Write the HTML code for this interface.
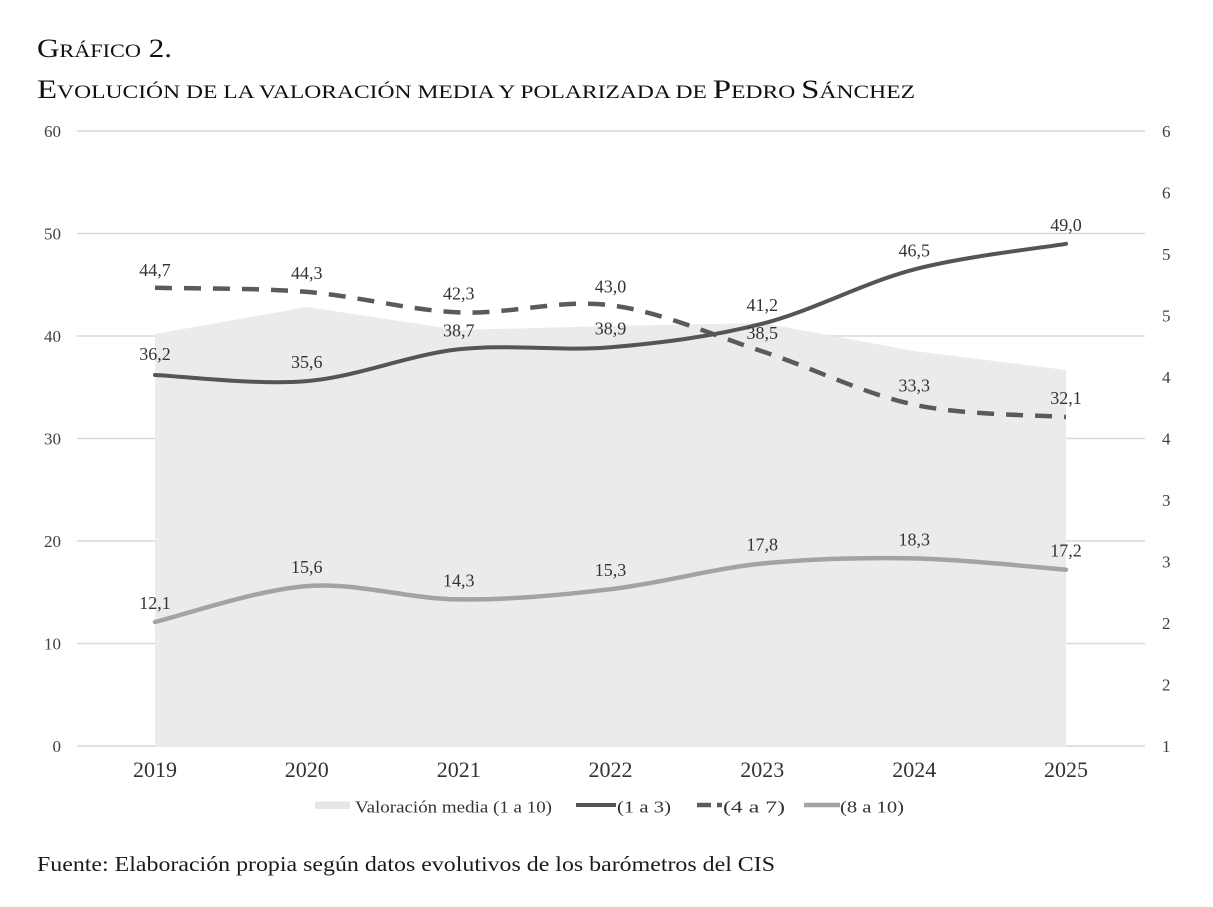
<!DOCTYPE html>
<html>
<head>
<meta charset="utf-8">
<style>
  html, body { margin: 0; padding: 0; background: #ffffff; }
  body { width: 1213px; height: 907px; overflow: hidden; }
  svg { display: block; }
  text { font-family: "Liberation Serif", "DejaVu Serif", serif; }
</style>
</head>
<body>
<svg width="1213" height="907" viewBox="0 0 1213 907" xmlns="http://www.w3.org/2000/svg">
  <rect x="0" y="0" width="1213" height="907" fill="#ffffff"/>

  <!-- Title -->
  <text x="37" y="57" font-size="26.5" fill="#111" textLength="135" lengthAdjust="spacingAndGlyphs">G<tspan font-size="19">RÁFICO</tspan> 2.</text>
  <text x="37" y="98" font-size="26.5" fill="#111" textLength="878" lengthAdjust="spacingAndGlyphs">E<tspan font-size="19">VOLUCIÓN DE LA VALORACIÓN MEDIA Y POLARIZADA DE </tspan>P<tspan font-size="19">EDRO </tspan>S<tspan font-size="19">ÁNCHEZ</tspan></text>

  <!-- Gridlines -->
  <g stroke="#d9d9d9" stroke-width="1.5">
    <line x1="77" y1="131" x2="1145" y2="131"/>
    <line x1="77" y1="233.5" x2="1145" y2="233.5"/>
    <line x1="77" y1="336" x2="1145" y2="336"/>
    <line x1="77" y1="438.5" x2="1145" y2="438.5"/>
    <line x1="77" y1="541" x2="1145" y2="541"/>
    <line x1="77" y1="643.5" x2="1145" y2="643.5"/>
    <line x1="77" y1="746" x2="1145" y2="746"/>
  </g>

  <!-- Area: Valoración media -->
  <polygon fill="#ebebeb" points="155,334 306.8,307 458.7,330 610.5,326 762.3,323 914.2,351 1066,370 1066,746.5 155,746.5"/>

  <!-- Left axis labels -->
  <g font-size="17" fill="#404040" text-anchor="end">
    <text x="61" y="137">60</text>
    <text x="61" y="239.5">50</text>
    <text x="61" y="342">40</text>
    <text x="61" y="444.5">30</text>
    <text x="61" y="547">20</text>
    <text x="61" y="649.5">10</text>
    <text x="61" y="752">0</text>
  </g>

  <!-- Right axis labels -->
  <g font-size="17" fill="#404040">
    <text x="1162" y="137">6</text>
    <text x="1162" y="198.5">6</text>
    <text x="1162" y="260">5</text>
    <text x="1162" y="321.5">5</text>
    <text x="1162" y="383">4</text>
    <text x="1162" y="444.5">4</text>
    <text x="1162" y="506">3</text>
    <text x="1162" y="567.5">3</text>
    <text x="1162" y="629">2</text>
    <text x="1162" y="690.5">2</text>
    <text x="1162" y="752">1</text>
  </g>

  <!-- X axis labels -->
  <g font-size="22" fill="#333" text-anchor="middle">
    <text x="155" y="777">2019</text>
    <text x="306.8" y="777">2020</text>
    <text x="458.7" y="777">2021</text>
    <text x="610.5" y="777">2022</text>
    <text x="762.3" y="777">2023</text>
    <text x="914.2" y="777">2024</text>
    <text x="1066" y="777">2025</text>
  </g>

  <!-- Series (8 a 10) light -->
  <path fill="none" stroke="#a3a3a3" stroke-width="4.5" stroke-linecap="round"
    d="M155,622 C180.3,616 256.2,589.9 306.8,586.1 C357.4,582.3 408.1,598.9 458.7,599.4 C509.3,599.9 559.9,595.2 610.5,589.2 C661.1,583.2 711.7,568.7 762.3,563.55 C812.9,558.4 863.6,557.4 914.2,558.4 C964.8,559.4 1040.7,567.8 1066,569.7"/>

  <!-- Series (4 a 7) dashed -->
  <path fill="none" stroke="#5a5a5a" stroke-width="4.5" stroke-dasharray="17 12"
    d="M155,287.8 C180.3,288.5 256.2,287.8 306.8,291.9 C357.4,296 408.1,310.2 458.7,312.4 C509.3,314.6 559.9,298.75 610.5,305.25 C661.1,311.75 711.7,334.8 762.3,351.4 C812.9,368 863.6,393.8 914.2,404.7 C964.8,415.6 1040.7,414.95 1066,417"/>

  <!-- Series (1 a 3) dark -->
  <path fill="none" stroke="#555555" stroke-width="4" stroke-linecap="round"
    d="M155,375 C180.3,376 256.2,385.4 306.8,381.1 C357.4,376.8 408.1,354.9 458.7,349.3 C509.3,343.7 559.9,351.6 610.5,347.3 C661.1,343 711.7,336.7 762.3,323.7 C812.9,310.7 863.6,282.7 914.2,269.4 C964.8,256.1 1040.7,248.1 1066,243.8"/>

  <!-- Data labels -->
  <g font-size="18" fill="#333" text-anchor="middle">
    <text x="155" y="360">36,2</text>
    <text x="306.8" y="368">35,6</text>
    <text x="458.7" y="336.3">38,7</text>
    <text x="610.5" y="334.3">38,9</text>
    <text x="762.3" y="311">41,2</text>
    <text x="914.2" y="256.4">46,5</text>
    <text x="1066" y="231">49,0</text>
    <text x="155" y="276">44,7</text>
    <text x="306.8" y="279">44,3</text>
    <text x="458.7" y="299.4">42,3</text>
    <text x="610.5" y="292.3">43,0</text>
    <text x="762.3" y="339">38,5</text>
    <text x="914.2" y="391.7">33,3</text>
    <text x="1066" y="404">32,1</text>
    <text x="155" y="609">12,1</text>
    <text x="306.8" y="573">15,6</text>
    <text x="458.7" y="586.4">14,3</text>
    <text x="610.5" y="576">15,3</text>
    <text x="762.3" y="550.5">17,8</text>
    <text x="914.2" y="545.4">18,3</text>
    <text x="1066" y="556.7">17,2</text>
  </g>

  <!-- Legend -->
  <rect x="315" y="801.5" width="35" height="7.5" fill="#e6e6e6"/>
  <text x="355" y="812.5" font-size="17" fill="#333" textLength="197" lengthAdjust="spacingAndGlyphs">Valoración media (1 a 10)</text>

  <line x1="576" y1="805" x2="616" y2="805" stroke="#555555" stroke-width="4"/>
  <text x="617" y="812.5" font-size="17" fill="#333" textLength="54" lengthAdjust="spacingAndGlyphs">(1 a 3)</text>

  <line x1="697" y1="805" x2="711" y2="805" stroke="#5a5a5a" stroke-width="4.5"/>
  <line x1="717" y1="805" x2="722" y2="805" stroke="#5a5a5a" stroke-width="4.5"/>
  <text x="723" y="812.5" font-size="17" fill="#333" textLength="62" lengthAdjust="spacingAndGlyphs">(4 a 7)</text>

  <line x1="804" y1="805" x2="840" y2="805" stroke="#a3a3a3" stroke-width="4.5"/>
  <text x="840" y="812.5" font-size="17" fill="#333" textLength="64" lengthAdjust="spacingAndGlyphs">(8 a 10)</text>

  <!-- Footnote -->
  <text x="37" y="871" font-size="21" fill="#1a1a1a" textLength="738" lengthAdjust="spacingAndGlyphs">Fuente: Elaboración propia según datos evolutivos de los barómetros del CIS</text>
</svg>
</body>
</html>
